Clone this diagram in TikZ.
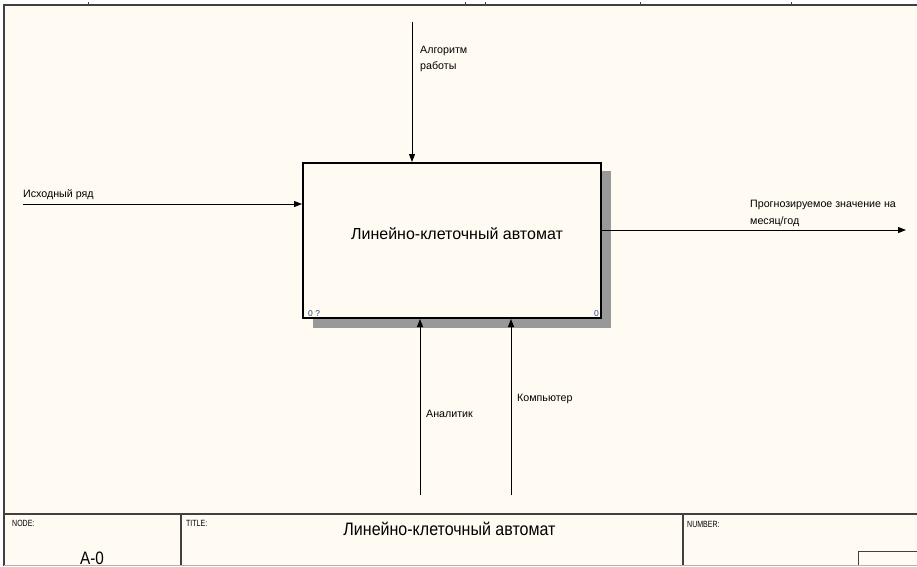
\documentclass[tikz,border=0pt]{standalone}
\usepackage{fontspec}
\usepackage{graphicx}
\setmainfont{Liberation Sans}
\usetikzlibrary{arrows.meta}
\definecolor{bg}{RGB}{255,251,242}
\definecolor{numc}{RGB}{50,70,130}
\begin{document}
\begin{tikzpicture}[x=1pt,y=-1pt,
  lbl/.style={font=\fontsize{10.67}{13}\selectfont, anchor=base west, inner sep=0},
  arr/.style={line width=1pt, -{Triangle[length=8pt,width=6pt]}},
  frame/.style={draw=black!75, line width=1.2pt},
  tiny/.style={font=\fontsize{9}{10}\selectfont, anchor=base west, inner sep=0},
  boxnum/.style={font=\fontsize{8.5}{10}\selectfont, text=numc, anchor=base west, inner sep=0}]
\useasboundingbox (0,0) rectangle (917,566);
\fill[white] (0,0) rectangle (917,566);
\fill[bg] (4,5) rectangle (917,566);
% frame
\draw[frame] (4,566) -- (4,5) -- (917,5);
\foreach \tx in {88,465,485,640,791} \draw[black!75, line width=0.8pt] (\tx,2) -- (\tx,5);
% shadow and box
\fill[black!40] (313,171) rectangle (611,328);
\node[draw, line width=2pt, fill=bg, minimum width=298pt, minimum height=155pt, inner sep=0] (A0) at (452,240.5) {};
\node[font=\fontsize{16}{18}\selectfont, anchor=base, inner sep=0] (A0txt) at (457,239) {Линейно-клеточный автомат};
\node[boxnum] (A0nl) at (308,316) {0 ?};
\node[boxnum] (A0nr) at (594,316) {0};
% input
\coordinate (in1) at (23,204);
\draw[arr] (in1) -- (in1 -| A0.west);
\node[lbl] (lin1) at (23,197) {Исходный ряд};
% output
\coordinate (out1) at (906,230);
\draw[arr] (A0.east |- out1) -- (out1);
\node[lbl] (lout1a) at (750,207) {Прогнозируемое значение на};
\node[lbl] (lout1b) at (750,224) {месяц/год};
% control
\coordinate (c1) at (412,22);
\draw[arr] (c1) -- (c1 |- A0.north);
\node[lbl] (lc1a) at (420,53) {Алгоритм};
\node[lbl] (lc1b) at (420,69) {работы};
% mechanisms
\coordinate (m1) at (420,495);
\coordinate (m2) at (511,495);
\draw[arr] (m1) -- (m1 |- A0.south);
\draw[arr] (m2) -- (m2 |- A0.south);
\node[lbl] (lm1) at (426,417) {Аналитик};
\node[lbl] (lm2) at (517,401) {Компьютер};
% title bar
\draw[frame] (4,514) -- (917,514);
\draw[frame] (181,514) -- (181,566);
\draw[frame] (683,514) -- (683,566);
\draw[black!75, line width=1pt] (858,566) -- (858,551) -- (917,551);
\draw[black!30, line width=1.5pt] (4,565.5) -- (917,565.5);
\node[tiny] (tnode) at (12,526) {\scalebox{0.78}[1]{NODE:}};
\node[tiny] (ttitle) at (186,526) {\scalebox{0.78}[1]{TITLE:}};
\node[tiny] (tnum) at (687,527) {\scalebox{0.78}[1]{NUMBER:}};
\node[font=\fontsize{18}{20}\selectfont, anchor=base, inner sep=0] (ttext) at (449.5,535) {\scalebox{0.89}[1]{Линейно-клеточный автомат}};
\node[font=\fontsize{18}{20}\selectfont, anchor=base, inner sep=0] (tA0) at (92,564) {\scalebox{0.85}[1]{A-0}};
\end{tikzpicture}
\end{document}
